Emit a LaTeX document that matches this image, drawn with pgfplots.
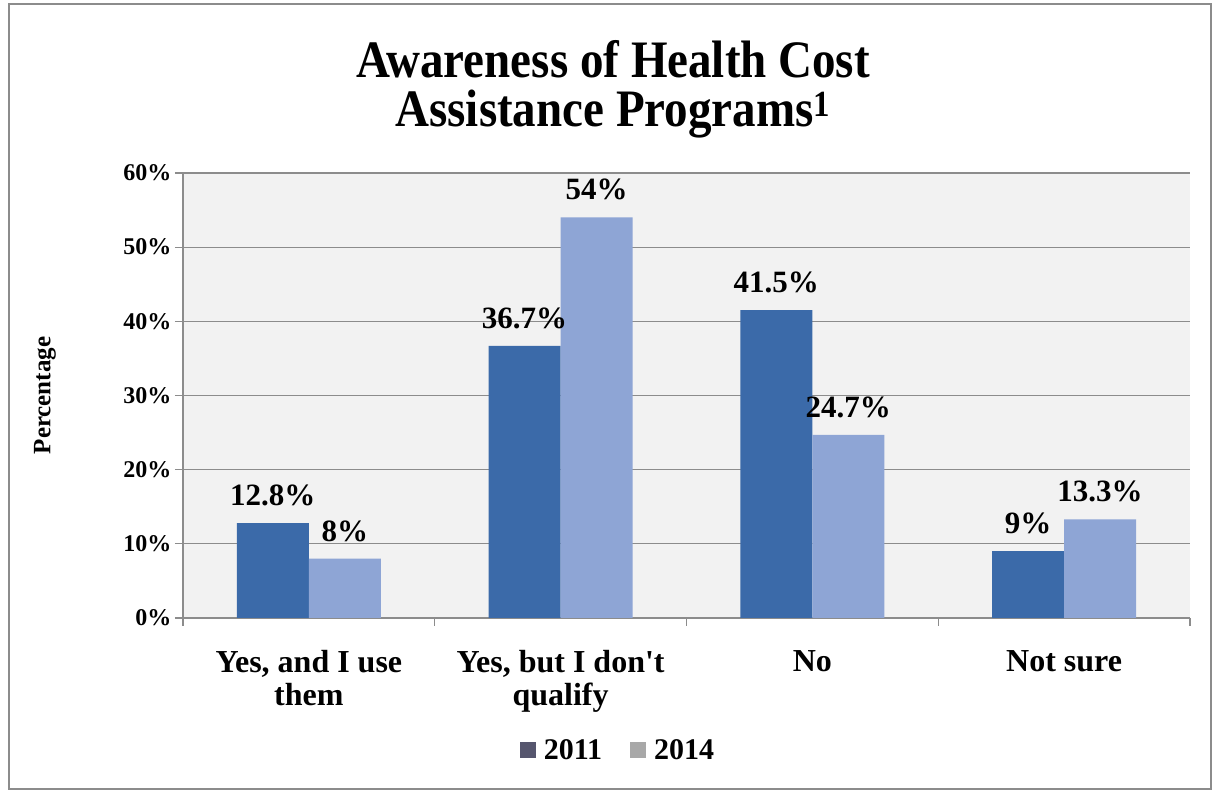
\documentclass[border=0pt]{standalone}
\usepackage{pgfplots}
\pgfplotsset{compat=1.18}
\usepackage{fontspec}
\setmainfont{Liberation Serif}
\usepackage{graphicx}
\definecolor{bA}{HTML}{3B6AA9}
\definecolor{bB}{HTML}{8EA5D5}
\definecolor{lgA}{HTML}{56566E}
\definecolor{lgB}{HTML}{A8A8A8}
\definecolor{gridc}{HTML}{8C8C8C}
\begin{document}
\begin{tikzpicture}[x=1pt,y=1pt]
\useasboundingbox (0,0) rectangle (1218,794);
\fill[white] (0,0) rectangle (1218,794);
\draw[gridc, line width=1.5pt] (9,5) rectangle (1211,790);
\node[font=\bfseries\fontsize{47}{49}\selectfont, align=center] at (613,705) {\scalebox{1}[1.12]{Awareness of Health Cost}\\\scalebox{1}[1.12]{Assistance Programs\textsuperscript{1}}};
\begin{axis}[
  at={(183pt,176pt)}, anchor=south west,
  scale only axis, width=1007pt, height=445pt,
  xmin=-0.5, xmax=3.5, ymin=0, ymax=60,
  ybar=0pt, bar width=72pt,
  axis background/.style={fill=black!5},
  axis x line*=bottom, axis y line*=left,
  axis line style={gridc, line width=1.2pt},
  ymajorgrids, grid style={gridc, line width=1.2pt},
  ytick={0,10,...,60},
  yticklabel={\pgfmathprintnumber{\tick}\%},
  yticklabel style={font=\bfseries\fontsize{24}{27}\selectfont},
  /pgf/number format/assume math mode=true,
  xtick={-0.5,0.5,1.5,2.5,3.5}, xticklabels={},
  tick align=outside, major tick length=8pt,
  tick style={gridc, line width=1.2pt},
  extra x ticks={0,1,2,3},
  extra x tick labels={{Yes, and I use\\them},{Yes, but I don\textquotesingle t\\qualify},{No},{Not sure}},
  extra x tick style={major tick length=0pt, grid=none,
    ticklabel style={align=center, font=\bfseries\fontsize{32}{33}\selectfont, yshift=-29pt}},
  ylabel={Percentage},
  ylabel style={font=\bfseries\fontsize{25}{28}\selectfont, at={(axis description cs:-0.137,0.5)}, anchor=center},
  nodes near coords={\pgfmathprintnumber[fixed,precision=1]{\pgfplotspointmeta}\%},
  every node near coord/.append style={font=\bfseries\fontsize{31}{34}\selectfont, black, inner sep=3pt, yshift=14pt},
  legend image code/.code={\fill[#1] (0pt,-8pt) rectangle (16pt,8pt);},
  legend style={at={(axis description cs:0.432,-0.297)}, anchor=center, draw=none, fill=none,
    legend columns=2, font=\bfseries\fontsize{30}{32}\selectfont,
    /tikz/every odd column/.append style={column sep=6pt},
    /tikz/every even column/.append style={column sep=26pt}},
]
\addplot[fill=bA, draw=none, bar shift=-36pt, forget plot] coordinates {(0,12.8) (1,36.7) (2,41.5) (3,9)};
\addplot[fill=bB, draw=none, bar shift=36pt, forget plot] coordinates {(0,8) (1,54) (2,24.7) (3,13.3)};
\addlegendimage{fill=lgA, draw=none}
\addlegendentry{2011}
\addlegendimage{fill=lgB, draw=none}
\addlegendentry{2014}
\end{axis}
\end{tikzpicture}
\end{document}
